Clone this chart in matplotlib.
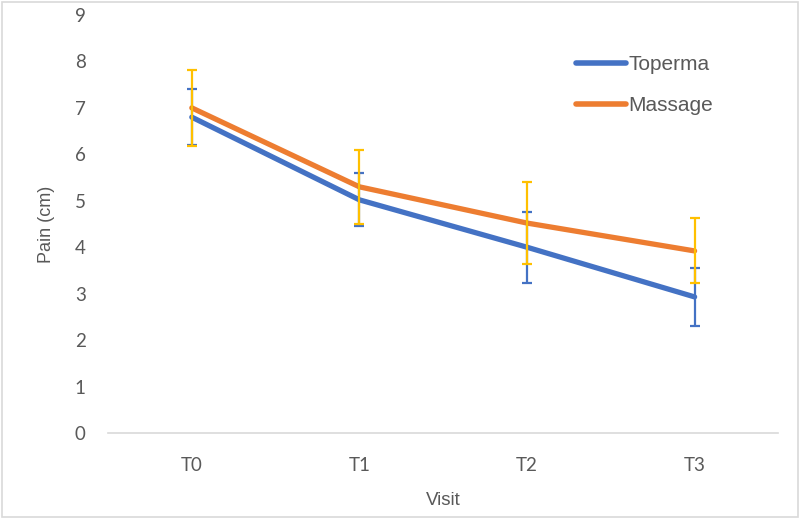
import matplotlib
matplotlib.use("Agg")
import matplotlib.pyplot as plt
from matplotlib.patches import Rectangle

visits = ["T0", "T1", "T2", "T3"]
toperma_mean = [6.8, 5.02, 4.0, 2.93]
toperma_sd = [0.6, 0.57, 0.76, 0.63]
massage_mean = [7.0, 5.3, 4.52, 3.92]
massage_sd = [0.82, 0.8, 0.88, 0.7]
yticks = [0, 1, 2, 3, 4, 5, 6, 7, 8, 9]

blue = "#4472C4"
orange = "#ED7D31"
yellow = "#FFC000"
grey = "#595959"

fig = plt.figure(figsize=(8, 5.2), dpi=100)
ax = fig.add_axes([0.135, 0.1673, 0.838, 0.8039])
x = list(range(len(visits)))

ax.plot(x, toperma_mean, color=blue, lw=3.8, solid_capstyle="round", label="Toperma", zorder=3)
ax.plot(x, massage_mean, color=orange, lw=3.8, solid_capstyle="round", label="Massage", zorder=3)
ax.errorbar(x, massage_mean, yerr=massage_sd, fmt="none", ecolor=yellow, elinewidth=1.6,
            capsize=3.8, capthick=1.6, zorder=4)
ax.errorbar(x, toperma_mean, yerr=toperma_sd, fmt="none", ecolor=blue, elinewidth=1.6,
            capsize=3.8, capthick=1.6, zorder=3.5)

ax.set_xlim(-0.5, 3.5)
ax.set_ylim(0, 9)
ax.set_yticks(yticks)
ax.set_xticks(x)
ax.set_xticklabels(visits)
for s in ["top", "right", "left"]:
    ax.spines[s].set_visible(False)
ax.spines["bottom"].set_color("#D9D9D9")
ax.spines["bottom"].set_linewidth(1.2)
ax.tick_params(axis="both", length=0, colors=grey, labelsize=13.5)
ax.tick_params(axis="y", pad=16)
ax.tick_params(axis="x", pad=17)
for lab in ax.get_xticklabels() + ax.get_yticklabels():
    lab.set_fontfamily("Lato")

ax.set_xlabel("Visit", fontsize=13.5, color=grey, family="Liberation Sans", labelpad=13)
ax.set_ylabel("Pain (cm)", fontsize=13, color=grey, family="Liberation Sans", labelpad=14)

leg = ax.legend(loc="upper left", bbox_to_anchor=(566 / 800, 1 - 45 / 520),
                bbox_transform=fig.transFigure, frameon=False, borderpad=0,
                prop={"family": "Liberation Sans", "size": 15}, handlelength=2.4,
                handletextpad=0.1, labelspacing=1.05)
for t in leg.get_texts():
    t.set_color(grey)
for h in leg.get_lines():
    h.set_linewidth(4.0)
    h.set_solid_capstyle("round")

fig.patches.append(Rectangle((0.003, 0.006), 0.994, 0.99, transform=fig.transFigure,
                             fill=False, edgecolor="#D9D9D9", lw=1.2))

fig.savefig("out.png", dpi=100)
